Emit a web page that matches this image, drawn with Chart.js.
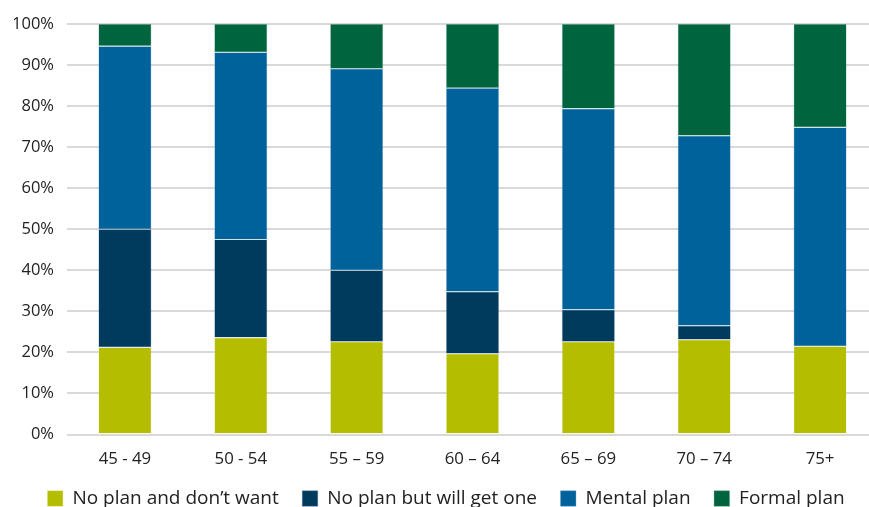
<!DOCTYPE html>
<html>
<head>
<meta charset="utf-8">
<script src="https://cdn.jsdelivr.net/npm/chart.js@4"></script>
<style>
  html, body { margin: 0; padding: 0; background: #fff; overflow: hidden; }
  #wrap { width: 878px; height: 518px; position: relative; }
</style>
</head>
<body>
<div id="wrap"><canvas id="c" width="878" height="518"></canvas></div>
<script>
const categories = ["45 - 49", "50 - 54", "55 – 59", "60 – 64", "65 – 69", "70 – 74", "75+"];
const seriesNames = ["No plan and don’t want", "No plan but will get one", "Mental plan", "Formal plan"];
const noPlanDontWant = [21.2, 23.6, 22.6, 19.7, 22.6, 23.1, 21.5];
const noPlanWillGet  = [28.8, 23.9, 17.4, 15.1, 7.8, 3.4, 0];
const mentalPlan     = [44.6, 45.6, 49.1, 49.6, 49.0, 46.3, 53.3];
const formalPlan     = [5.4, 6.9, 10.9, 15.6, 20.6, 27.2, 25.2];
const yTicks = [0, 10, 20, 30, 40, 50, 60, 70, 80, 90, 100];

const colors = ["#B5BD00", "#003A5D", "#00629B", "#00643F"];
const borders = ["rgba(230,235,170,0.5)", "rgba(90,130,165,0.6)", "rgba(110,160,200,0.6)", "rgba(90,160,135,0.6)"];
const seriesValues = [noPlanDontWant, noPlanWillGet, mentalPlan, formalPlan];

const FONT = "'Open Sans', 'Noto Sans', sans-serif";

new Chart(document.getElementById('c'), {
  type: 'bar',
  data: {
    labels: categories,
    datasets: seriesNames.map((name, i) => ({
      label: name,
      data: seriesValues[i],
      backgroundColor: colors[i],
      borderColor: borders[i],
      borderWidth: 0.6,
      borderSkipped: false,
      barPercentage: 1,
      categoryPercentage: 0.458
    }))
  },
  options: {
    responsive: false,
    animation: false,
    devicePixelRatio: 1,
    layout: { padding: { left: 14, right: 0, top: 24, bottom: 0 } },
    plugins: {
      tooltip: { enabled: false },
      legend: {
        position: 'bottom',
        labels: {
          boxWidth: 15.5,
          boxHeight: 15.5,
          padding: 23.5,
          color: '#222',
          font: { family: FONT, size: 19 }
        }
      }
    },
    scales: {
      x: {
        stacked: true,
        grid: { display: false, drawTicks: false },
        border: { display: false },
        ticks: {
          color: '#222',
          padding: 15,
          maxRotation: 0,
          autoSkip: false,
          font: { family: FONT, size: 16.8 }
        },
        afterFit: (s) => { s.height = 31; }
      },
      y: {
        stacked: true,
        min: 0,
        max: 100,
        afterBuildTicks: (s) => { s.ticks = yTicks.map(v => ({ value: v })); },
        grid: { color: '#d9d9d9', lineWidth: 2, drawTicks: false },
        border: { display: false },
        ticks: {
          color: '#222',
          padding: 13,
          font: { family: FONT, size: 16.5 },
          callback: (v) => v + '%'
        },
        afterFit: (s) => { s.width = 53; }
      }
    }
  }
});
</script>
</body>
</html>
